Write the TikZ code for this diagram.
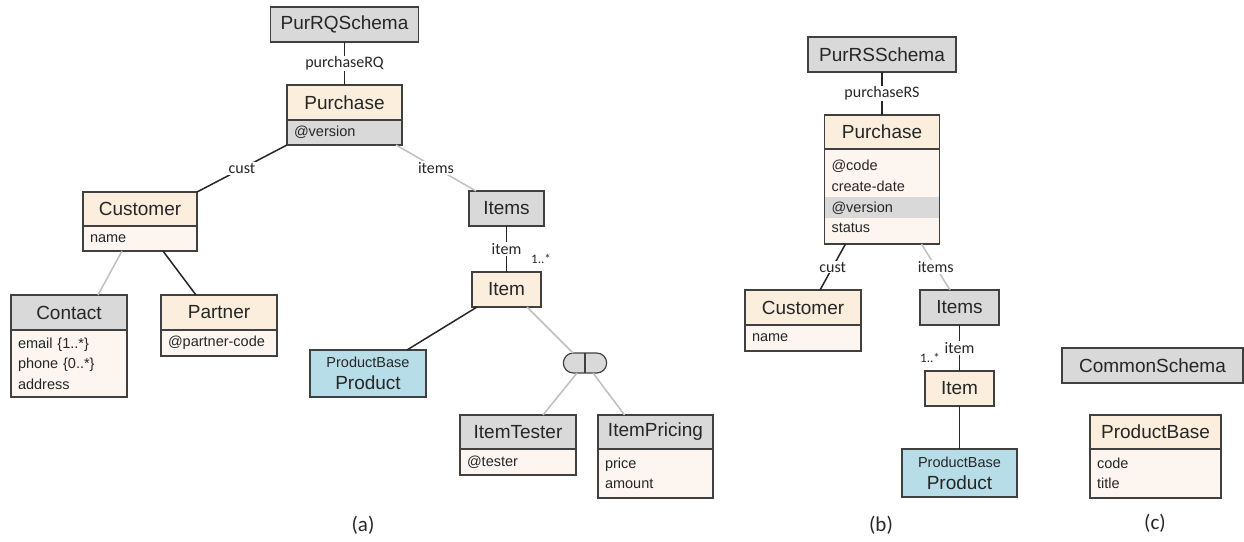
\documentclass[tikz,border=0pt]{standalone}
\usepackage{fontspec}
\setmainfont{Liberation Sans}
\newfontfamily\lblfont{Carlito}
\usetikzlibrary{positioning,shapes.misc}
\definecolor{hdrcol}{HTML}{FBEEDD}
\definecolor{attrcol}{HTML}{FDF6F0}
\definecolor{greycol}{HTML}{D9D9D9}
\definecolor{prodcol}{HTML}{B7DEE8}
\definecolor{edgecol}{HTML}{404040}
\definecolor{softline}{HTML}{BFBFBF}
\tikzset{
  box/.style={draw=edgecol, line width=1.2pt, inner sep=0pt, outer sep=0pt, text=black!85,
    font=\fontsize{19}{22}\selectfont},
  hdr/.style={box, fill=hdrcol},
  grp/.style={box, fill=greycol},
  ref/.style={box, fill=prodcol, align=center},
  attrs/.style={draw=edgecol, line width=1.2pt, fill=attrcol, inner xsep=7pt, inner ysep=0pt,
    outer sep=0pt, align=left, text=black!85, font=\fontsize{14.5}{20.6}\selectfont},
  hard/.style={line width=1.5pt, black!85},
  soft/.style={line width=1.5pt, softline},
  lbl/.style={fill=white, inner sep=1pt, text=black!85, font=\lblfont\fontsize{16}{18}\selectfont},
  mult/.style={inner sep=0pt, text=black!85, font=\lblfont\fontsize{13}{15}\selectfont},
  caption/.style={text=black!85, font=\lblfont\fontsize{21}{24}\selectfont}
}

\begin{document}
\begin{tikzpicture}[x=1pt,y=-1pt]
  \useasboundingbox (0,0) rectangle (1244,541);

  % (a) request schema
  \node[grp, minimum width=148pt, minimum height=35pt] (schemaA) at (344.5,24.5) {PurRQSchema};
  \node[hdr, minimum width=115pt, minimum height=35pt] (purchA) at (344.5,102.5) {Purchase};
  \node[attrs, fill=greycol, text width=101pt, minimum height=25pt, below=0pt of purchA] (purchAattr) {@version};

  \node[hdr, minimum width=114pt, minimum height=34pt] (custA) at (140,209) {Customer};
  \node[attrs, text width=100pt, minimum height=25pt, below=0pt of custA] (custAattr) {name};

  \node[grp, minimum width=116pt, minimum height=35pt] (contact) at (69,312.5) {Contact};
  \node[attrs, text width=102pt, minimum height=67pt, below=0pt of contact] (contactattr)
    {email \{1..*\}\\phone \{0..*\}\\address};

  \node[hdr, minimum width=116pt, minimum height=35pt] (partner) at (219,312.5) {Partner};
  \node[attrs, text width=102pt, minimum height=26pt, below=0pt of partner] (partnerattr) {@partner-code};

  \node[grp, minimum width=75pt, minimum height=35pt] (itemsA) at (506.5,208.5) {Items};
  \node[hdr, minimum width=69pt, minimum height=35pt] (itemA) at (506.5,289.5) {Item};
  \node[mult, above=8pt of itemA.north east] (multA) {1..*};

  \node[ref, minimum width=116pt, minimum height=47pt] (prodA) at (368,373.5)
    {{\fontsize{14.5}{16}\selectfont ProductBase}\\Product};

  \node[rounded rectangle, draw=edgecol, line width=1.2pt, fill=greycol, outer sep=0pt,
    minimum width=50pt, minimum height=20pt] (choice) at (585,363) {};

  \node[grp, minimum width=116pt, minimum height=34pt] (tester) at (518,432) {ItemTester};
  \node[attrs, text width=102pt, minimum height=26pt, below=0pt of tester] (testerattr) {@tester};

  \node[grp, minimum width=115pt, minimum height=34pt] (pricing) at (655.5,432) {ItemPricing};
  \node[attrs, text width=101pt, minimum height=49pt, below=0pt of pricing] (pricingattr) {price\\amount};

  \draw[hard] (schemaA) -- node[lbl] {purchaseRQ} (purchA);
  \draw[hard] (purchAattr.south west) -- node[lbl] {cust} (custA.north east);
  \draw[soft] ([xshift=-6pt]purchAattr.south east) -- node[lbl] {items} ([xshift=7pt]itemsA.north west);
  \draw[soft] ([xshift=39pt]custAattr.south west) -- ([xshift=-29pt]contact.north east);
  \draw[hard] ([xshift=23pt]custAattr.south) -- ([xshift=35pt]partner.north west);
  \draw[hard] (itemsA) -- node[lbl] {item} (itemA);
  \draw[hard] ([xshift=5pt]itemA.south west) -- ([xshift=-19pt]prodA.north east);
  \draw[soft] ([xshift=-14pt]itemA.south east) -- ([xshift=-12pt]choice.north);
  \draw[edgecol, line width=1.2pt] (choice.north) -- (choice.south);
  \draw[soft] ([xshift=-8pt]choice.south) -- ([xshift=25pt]tester.north);
  \draw[soft] ([xshift=8pt]choice.south) -- ([xshift=-31pt]pricing.north);

  \node[caption] (capA) at (363,525) {(a)};

  % (b) response schema
  \node[grp, minimum width=148pt, minimum height=35pt] (schemaB) at (882,54.5) {PurRSSchema};
  \node[hdr, minimum width=115pt, minimum height=34pt] (purchB) at (882,132) {Purchase};
  \node[attrs, text width=101pt, minimum height=95pt, below=0pt of purchB,
    font=\fontsize{14.5}{20.7}\selectfont,
    path picture={\fill[greycol] ([yshift=-48pt]path picture bounding box.north west)
      rectangle ([yshift=-69pt]path picture bounding box.north east);}] (purchBattr)
    {@code\\create-date\\@version\\status};

  \node[hdr, minimum width=116pt, minimum height=35pt] (custB) at (803,307.5) {Customer};
  \node[attrs, text width=102pt, minimum height=26pt, below=0pt of custB] (custBattr) {name};

  \node[grp, minimum width=79pt, minimum height=35pt] (itemsB) at (959.5,307.5) {Items};
  \node[hdr, minimum width=69pt, minimum height=35pt] (itemB) at (959.5,388.5) {Item};
  \node[mult, above=8pt of itemB.north west, xshift=5pt] (multB) {1..*};

  \node[ref, minimum width=115pt, minimum height=48pt] (prodB) at (959.5,473)
    {{\fontsize{14.5}{16}\selectfont ProductBase}\\Product};

  \draw[hard] (schemaB) -- node[lbl] {purchaseRS} (purchB);
  \draw[hard] ([xshift=21pt]purchBattr.south west) -- node[lbl] {cust} ([xshift=-41pt]custB.north east);
  \draw[soft] ([xshift=-18pt]purchBattr.south east) -- node[lbl] {items} ([xshift=30pt]itemsB.north west);
  \draw[hard] (itemsB) -- node[lbl] {item} (itemB);
  \draw[hard] (itemB) -- (prodB);

  \node[caption] (capB) at (881,525) {(b)};

  % (c) common schema
  \node[grp, minimum width=181pt, minimum height=35pt] (common) at (1152.5,365.5) {CommonSchema};
  \node[hdr, minimum width=131pt, minimum height=34pt] (base) at (1155.5,432) {ProductBase};
  \node[attrs, text width=117pt, minimum height=49pt, below=0pt of base] (baseattr) {code\\title};

  \node[caption] (capC) at (1155,523) {(c)};
\end{tikzpicture}
\end{document}
